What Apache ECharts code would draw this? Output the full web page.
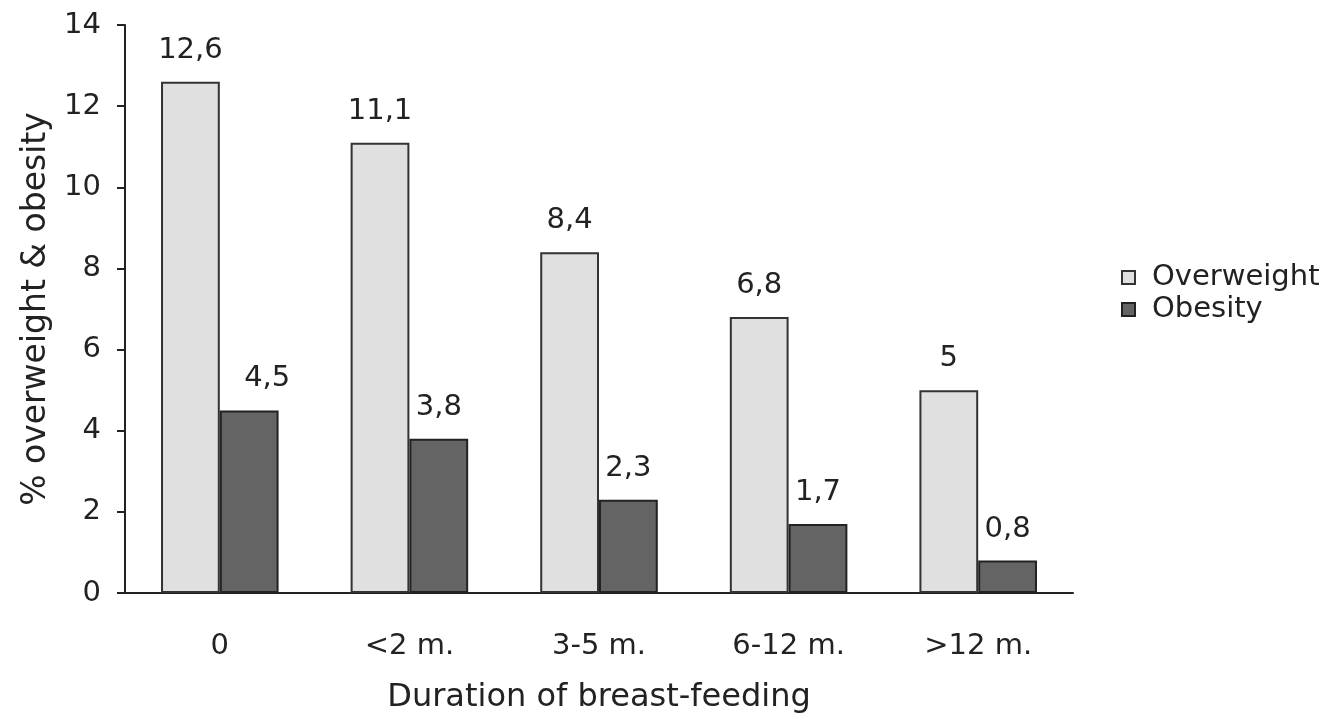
<!DOCTYPE html>
<html><head><meta charset="utf-8">
<script src="https://cdn.jsdelivr.net/npm/echarts@6/dist/echarts.min.js"></script>
<style>html,body{margin:0;padding:0;background:#fff}#c{width:1330px;height:721px}</style>
</head><body><div id="c"></div>
<script>
const categories = ['0', '<2 m.', '3-5 m.', '6-12 m.', '>12 m.'];
const overweight = [12.6, 11.1, 8.4, 6.8, 5];
const obesity = [4.5, 3.8, 2.3, 1.7, 0.8];
const yTicks = [0, 14, 2];

const font = 'DejaVu Sans';
const fs = 29;
const fmt = p => String(p.value).replace('.', ',');
const chart = echarts.init(document.getElementById('c'));
chart.setOption({
  animation: false,
  backgroundColor: '#fff',
  textStyle: { fontFamily: font, color: '#222' },
  grid: { left: 125, top: 25, right: 257, bottom: 128 },
  legend: {
    orient: 'vertical', left: 1116, top: 258,
    itemWidth: 13, itemHeight: 13, itemGap: 3,
    icon: 'rect',
    textStyle: { fontFamily: font, fontSize: fs, color: '#222', padding: [0, 0, 0, 12] },
    data: ['Overweight', 'Obesity']
  },
  xAxis: {
    type: 'category', data: categories,
    name: 'Duration of breast-feeding', nameLocation: 'middle', nameGap: 89,
    nameTextStyle: { fontFamily: font, fontSize: 32, color: '#222' },
    axisLine: { lineStyle: { color: '#222', width: 2 } },
    axisTick: { length: 8, lineStyle: { color: '#222', width: 2 } },
    axisLabel: { fontFamily: font, fontSize: fs, color: '#222', margin: 39 }
  },
  yAxis: {
    type: 'value', min: yTicks[0], max: yTicks[1], interval: yTicks[2],
    name: '% overweight & obesity', nameLocation: 'middle', nameGap: 72,
    nameTextStyle: { fontFamily: font, fontSize: 33, color: '#222' },
    axisLine: { show: true, lineStyle: { color: '#222', width: 2 } },
    axisTick: { show: true, length: 8, lineStyle: { color: '#222', width: 2 } },
    axisLabel: { fontFamily: font, fontSize: fs, color: '#222', margin: 24 },
    splitLine: { show: false }
  },
  series: [
    {
      name: 'Overweight', type: 'bar', data: overweight,
      barGap: '0%', barCategoryGap: '38%',
      itemStyle: { color: '#e0e0e0', borderColor: '#333', borderWidth: 2 },
      label: { show: true, position: 'top', distance: 17, formatter: fmt,
               fontFamily: font, fontSize: fs, color: '#222' }
    },
    {
      name: 'Obesity', type: 'bar',
      data: obesity.map((v, i) => i === 0 ? { value: v, label: { offset: [18, 0] } } : v),
      itemStyle: { color: '#646464', borderColor: '#222', borderWidth: 2 },
      label: { show: true, position: 'top', distance: 17, formatter: fmt,
               fontFamily: font, fontSize: fs, color: '#222' }
    }
  ]
});
</script></body></html>
